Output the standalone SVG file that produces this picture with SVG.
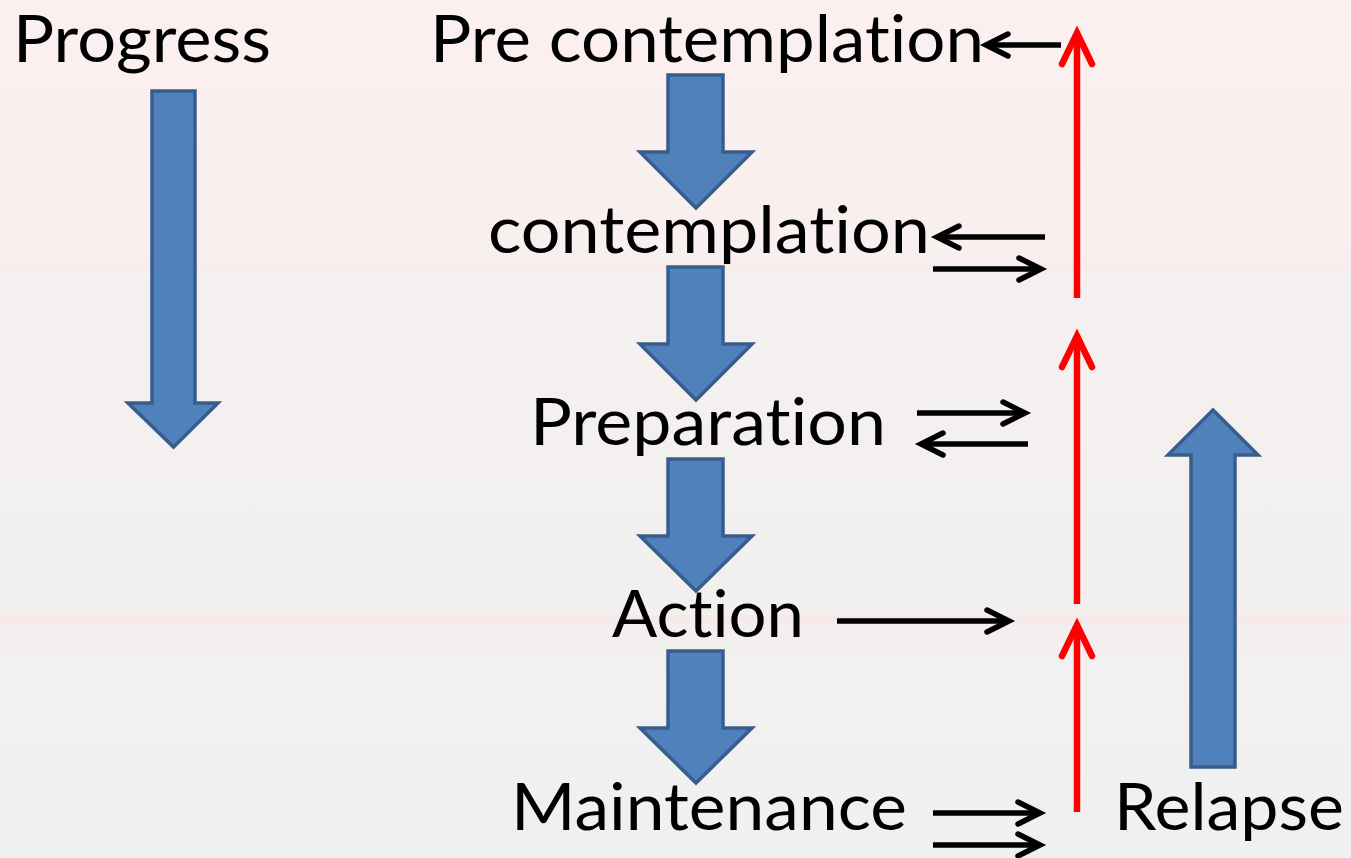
<svg xmlns="http://www.w3.org/2000/svg" width="1351" height="858" viewBox="0 0 1351 858">
  <defs>
    <linearGradient id="bg" x1="0" y1="0" x2="0" y2="1">
      <stop offset="0" stop-color="#fcefef"/>
      <stop offset="0.28" stop-color="#f9efef"/>
      <stop offset="0.34" stop-color="#f4f0f0"/>
      <stop offset="0.7" stop-color="#f2f0ef"/>
      <stop offset="0.74" stop-color="#f4eeee"/>
      <stop offset="0.78" stop-color="#f1f1f1"/>
      <stop offset="1" stop-color="#f0f0f0"/>
    </linearGradient>
    <marker id="ah" markerUnits="userSpaceOnUse" markerWidth="40" markerHeight="40" viewBox="-30 -20 40 40" refX="0" refY="0" orient="auto" overflow="visible">
      <path d="M -22 -11 L 0 0 L -22 11" fill="none" stroke="#000" stroke-width="5.5" stroke-linecap="round" stroke-linejoin="miter"/>
    </marker>
    <marker id="rh" markerUnits="userSpaceOnUse" markerWidth="50" markerHeight="50" viewBox="-40 -25 50 50" refX="0" refY="0" orient="auto" overflow="visible">
      <path d="M -31 -15 L 0 0 L -31 15" fill="none" stroke="#ff0000" stroke-width="6.5" stroke-linecap="round" stroke-linejoin="miter"/>
    </marker>
  </defs>
  <style>
    .lbl { font-family: Lato, "Open Sans", "Liberation Sans", sans-serif; font-size: 65px; fill: #000; font-variant-ligatures: none; font-feature-settings: "liga" 0, "clig" 0; }
    .blk { stroke: #000; stroke-width: 5.5; fill: none; marker-end: url(#ah); }
    .red { stroke: #ff0000; stroke-width: 6.5; fill: none; marker-end: url(#rh); }
    .blue { fill: #4f81bd; stroke: #385d8a; stroke-width: 3.5; stroke-linejoin: miter; }
  </style>

  <rect x="0" y="0" width="1351" height="858" fill="url(#bg)"/>
  <rect x="0" y="615" width="1351" height="8" fill="#f7e6e6" opacity="0.6"/>
  <rect x="0" y="262" width="1351" height="10" fill="#f6eaea" opacity="0.5"/>

  <g id="progress">
    <text class="lbl" x="13" y="62" textLength="258" lengthAdjust="spacingAndGlyphs">Progress</text>
  </g>
  <g id="precontemplation">
    <text class="lbl" x="430" y="62" textLength="554" lengthAdjust="spacingAndGlyphs">Pre contemplation</text>
  </g>
  <g id="contemplation">
    <text class="lbl" x="488" y="253" textLength="442" lengthAdjust="spacingAndGlyphs">contemplation</text>
  </g>
  <g id="preparation">
    <text class="lbl" x="530" y="445" textLength="356" lengthAdjust="spacingAndGlyphs">Preparation</text>
  </g>
  <g id="action">
    <text class="lbl" x="612" y="637" textLength="192" lengthAdjust="spacingAndGlyphs">Action</text>
  </g>
  <g id="maintenance">
    <text class="lbl" x="511" y="830" textLength="396" lengthAdjust="spacingAndGlyphs">Maintenance</text>
  </g>
  <g id="relapse">
    <text class="lbl" x="1114" y="830" textLength="230" lengthAdjust="spacingAndGlyphs">Relapse</text>
  </g>

  <g id="connectors">
    <!-- big progress arrow -->
    <path class="blue" d="M152 91 H195 V403 H218 L173.5 447 L128 403 H152 Z"/>
    <!-- stage arrows -->
    <path class="blue" d="M668 75 H723 V152 H752 L696 208 L640 152 H668 Z"/>
    <path class="blue" d="M668 267 H723 V344 H752 L696 400 L640 344 H668 Z"/>
    <path class="blue" d="M668 459 H723 V536 H752 L696 591 L640 536 H668 Z"/>
    <path class="blue" d="M668 651 H723 V728 H752 L696 783 L640 728 H668 Z"/>
    <!-- relapse arrow -->
    <path class="blue" d="M1191 767 V455 H1168 L1213 410 L1258 455 H1235 V767 Z"/>

    <!-- black arrows -->
    <line class="blk" x1="1061" y1="45" x2="986" y2="45"/>
    <line class="blk" x1="1045" y1="237" x2="937" y2="237"/>
    <line class="blk" x1="933" y1="269" x2="1041" y2="269"/>
    <line class="blk" x1="917" y1="413" x2="1025" y2="413"/>
    <line class="blk" x1="1028" y1="444" x2="921" y2="444"/>
    <line class="blk" x1="837" y1="621" x2="1009" y2="621"/>
    <line class="blk" x1="933" y1="813" x2="1040" y2="813"/>
    <line class="blk" x1="933" y1="845" x2="1040" y2="845"/>

    <!-- red relapse arrows -->
    <line class="red" x1="1077" y1="298" x2="1077" y2="33"/>
    <line class="red" x1="1077" y1="604" x2="1077" y2="336"/>
    <line class="red" x1="1077" y1="812" x2="1077" y2="625"/>
  </g>
</svg>
